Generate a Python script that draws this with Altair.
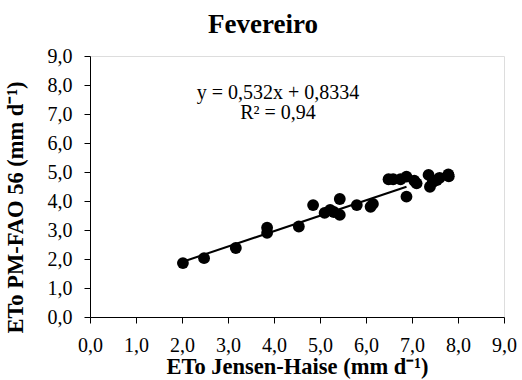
import altair as alt
import pandas as pd

x_jh = [2.02, 2.48, 3.17, 3.85, 3.85, 4.54, 4.85, 5.10, 5.22, 5.30, 5.43, 5.43,
        5.80, 6.10, 6.15, 6.49, 6.59, 6.75, 6.88, 6.88, 7.05, 7.10, 7.36, 7.39,
        7.45, 7.54, 7.60, 7.79, 7.80]
y_pm = [1.86, 2.03, 2.38, 2.90, 3.08, 3.12, 3.86, 3.59, 3.69, 3.62, 4.07, 3.52,
        3.86, 3.80, 3.90, 4.75, 4.75, 4.75, 4.84, 4.15, 4.70, 4.61, 4.90, 4.49,
        4.65, 4.72, 4.80, 4.92, 4.85]
tick_vals = [0, 1, 2, 3, 4, 5, 6, 7, 8, 9]

slope = 0.532
intercept = 0.8334
fit_x = [2.0, 6.88]
eq_lines = ["y = 0,532x + 0,8334", "R² = 0,94"]

pts = pd.DataFrame({"x": x_jh, "y": y_pm})
fit = pd.DataFrame({"x": fit_x, "y": [slope * v + intercept for v in fit_x]})

FONT = "Liberation Serif"
lab = "replace(format(datum.value, '.1f'), '.', ',')"

xs = alt.Scale(domain=[0, 9], nice=False)
ys = alt.Scale(domain=[0, 9], nice=False)

common = dict(grid=False, domainColor="black", tickColor="black", tickSize=6,
              labelFont=FONT, labelFontSize=20, labelColor="black",
              labelOverlap=False, labelFlush=False,
              titleFont=FONT, titleFontSize=22.5, titleFontWeight="bold", titleColor="black")

xax = alt.Axis(values=tick_vals, labelExpr=lab, title="ETo Jensen-Haise (mm d⁻¹)",
               labelPadding=12, titlePadding=0, **common)
yax = alt.Axis(values=tick_vals, labelExpr=lab, title="ETo PM-FAO 56 (mm d⁻¹)",
               labelPadding=12, titleX=-63, titleY=151, **common)

points = alt.Chart(pts).mark_circle(size=140, color="black", opacity=1).encode(
    x=alt.X("x:Q", scale=xs, axis=xax),
    y=alt.Y("y:Q", scale=ys, axis=yax),
)
line = alt.Chart(fit).mark_line(color="black", strokeWidth=2).encode(
    x=alt.X("x:Q", scale=xs, axis=xax),
    y=alt.Y("y:Q", scale=ys, axis=yax),
)
txt = pd.DataFrame({"t": eq_lines})
label1 = alt.Chart(txt.iloc[[0]]).mark_text(font=FONT, fontSize=20, color="black",
                                            align="center", baseline="middle").encode(
    text="t:N", x=alt.value(188), y=alt.value(37))
label2 = alt.Chart(txt.iloc[[1]]).mark_text(font=FONT, fontSize=20, color="black",
                                            align="center", baseline="middle").encode(
    text="t:N", x=alt.value(188), y=alt.value(57))

chart = alt.layer(line, points, label1, label2).properties(
    width=414, height=261,
    title=alt.TitleParams("Fevereiro", font=FONT, fontSize=27, fontWeight="bold",
                          color="black", anchor="middle", dx=-34, offset=7),
    padding={"left": 90, "top": 56, "right": 18, "bottom": 63},
    autosize=alt.AutoSizeParams(type="none"),
).configure_view(stroke=None).configure(background="white", font=FONT).configure_axis(
    labelFont=FONT, titleFont=FONT)

chart.save("out.html", embed_options={"renderer": "svg", "actions": False})
